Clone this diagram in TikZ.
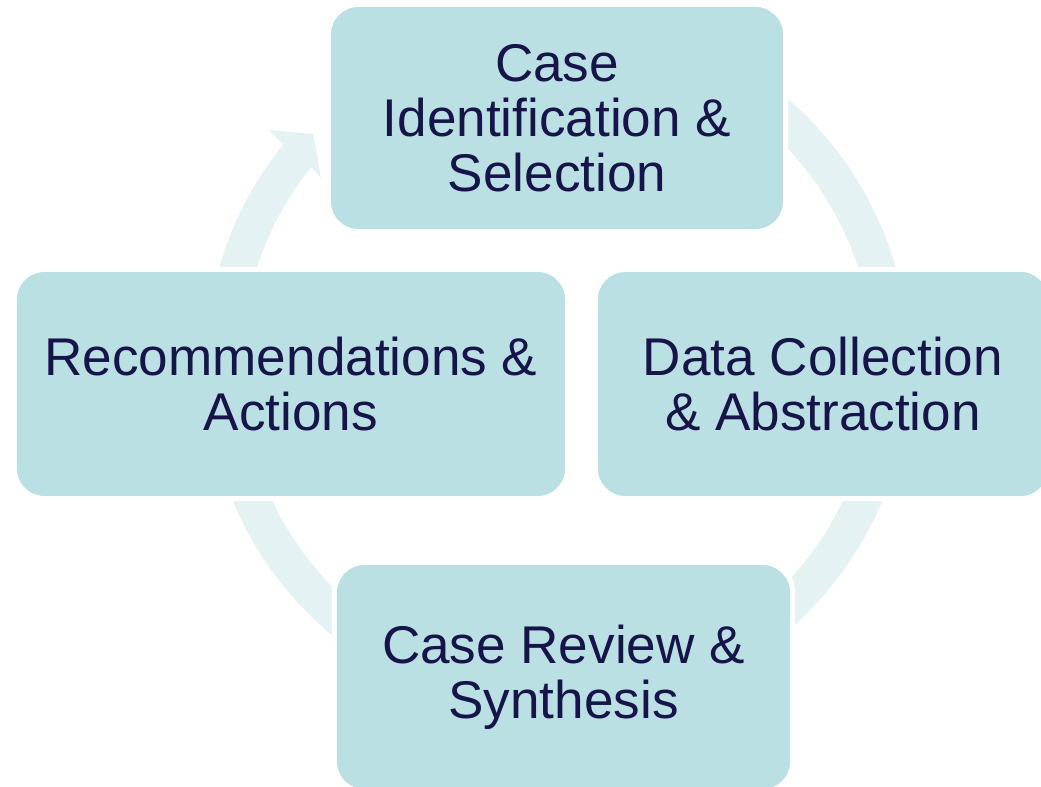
\documentclass[tikz,border=0pt]{standalone}
\usepackage{fontspec}
\setmainfont{Liberation Sans}
\usetikzlibrary{calc}
\definecolor{boxfill}{RGB}{186,224,227}
\definecolor{ringfill}{RGB}{229,242,244}
\definecolor{labeltext}{RGB}{22,20,72}

\begin{document}
\begin{tikzpicture}[x=0.01cm, y=0.01cm,
    stage/.style={rectangle, rounded corners=0.3cm, fill=boxfill, draw=white,
      line width=0.05cm, align=center, text=labeltext, inner sep=0pt,
      font=\fontsize{15.1}{15.65}\selectfont}]
	\useasboundingbox (0,0) rectangle (1041,787);
	\coordinate (c) at (557.5,422);
	% the cycle ring with its arrowhead
	\fill[ringfill] ($(c)+(141.2:352)$) arc[start angle=141.2, end angle=485, radius=352]
	    -- ($(c)+(485:316)$) arc[start angle=485, end angle=141.2, radius=316]
	    -- ($(c)+(141.7:301.5)$) -- ($(c)+(136.6:336)$) -- ($(c)+(140.8:372)$) -- cycle;
	% the four stages
	\node[stage, minimum width=4.57cm, minimum height=2.27cm] (ident) at (557,669) {Case\\Identification \&\\Selection};
	\node[stage, minimum width=5.53cm, minimum height=2.29cm] (recom) at (291,403) {Recommendations \&\\Actions};
	\node[stage, minimum width=4.55cm, minimum height=2.29cm] (datacol) at (823,403) {Data Collection\\\& Abstraction};
	\node[stage, minimum width=4.58cm, minimum height=2.29cm] (review) at (563.5,110) {Case Review \&\\Synthesis};
\end{tikzpicture}
\end{document}
